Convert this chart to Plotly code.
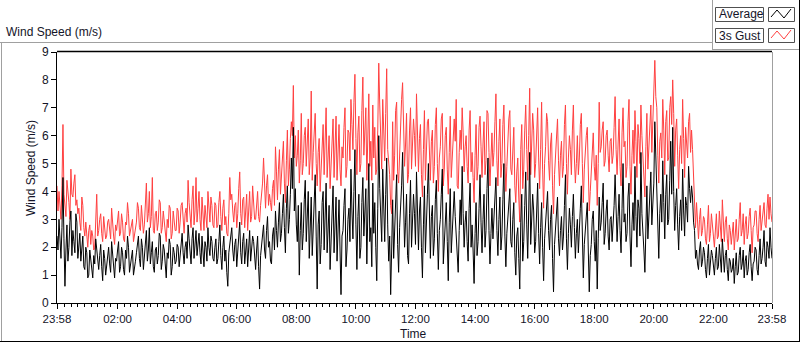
import datetime as dt
import plotly.graph_objects as go

# ---------------- data (one value every 2 minutes) ----------------
start_time = "2000-01-01 23:58"
step_minutes = 2

average = [
    2.4,1.9,3.0,2.2,1.6,2.7,4.5,2.3,0.6,1.9,2.8,1.5,2.0,2.9,3.3,1.7,2.6,2.2,1.8,3.2,2.9,1.6,2.1,2.5,1.5,1.9,2.4,1.3,1.2,2.0,1.8,0.9,1.0,1.9,1.6,1.1,0.9,1.7,1.4,2.3,
    1.9,1.4,1.2,1.7,2.1,1.3,0.8,1.9,1.6,1.0,1.3,1.8,2.0,1.4,1.1,2.2,1.7,1.2,0.9,1.6,1.5,1.9,2.2,1.1,1.3,2.0,1.8,1.2,1.0,1.9,1.6,2.4,2.0,1.1,1.4,1.7,1.9,1.0,1.2,1.5,
    1.8,2.2,2.4,1.6,1.3,2.3,2.0,1.2,1.6,2.1,2.6,1.5,1.9,2.7,1.4,1.8,2.2,1.3,1.1,1.9,2.0,1.4,1.7,2.5,2.4,1.2,1.5,2.1,1.9,1.4,0.9,1.8,1.6,2.3,2.1,1.0,1.3,2.0,1.8,1.4,
    1.5,2.1,2.0,1.3,1.7,2.2,2.5,1.8,1.4,2.0,2.2,1.6,2.8,2.3,1.9,1.4,2.3,2.7,1.6,2.0,2.6,1.7,2.1,2.5,1.8,1.4,2.4,1.9,1.3,2.2,2.0,1.5,2.7,2.0,1.7,2.4,2.2,1.6,1.5,2.0,
    2.3,1.4,1.6,2.2,2.8,1.7,1.2,2.0,2.4,1.5,1.9,1.1,0.6,1.8,2.1,2.5,2.7,1.9,1.5,2.1,2.3,1.3,1.8,2.4,2.9,1.8,1.4,2.2,2.5,1.4,2.0,2.3,1.3,1.9,2.6,1.5,1.9,2.4,2.2,1.6,
    1.2,1.9,2.4,1.3,0.5,1.7,2.0,2.5,2.8,1.9,1.6,2.6,3.1,2.0,2.2,1.5,1.4,2.4,2.7,1.9,3.3,2.6,2.0,2.9,3.6,2.2,2.5,3.2,3.9,2.7,1.8,3.4,4.2,2.5,3.0,3.9,5.2,4.1,6.3,3.3,
    4.1,2.8,2.2,3.5,1.0,2.6,3.6,1.9,2.5,3.7,4.4,2.2,3.0,4.0,1.6,2.9,3.8,1.7,2.7,3.9,4.6,2.4,0.5,2.8,3.3,1.4,2.1,3.6,4.0,1.9,3.1,4.3,1.8,2.9,3.5,1.2,2.4,3.8,4.2,1.8,
    2.9,3.8,1.5,2.6,3.7,1.9,0.3,2.4,2.6,3.5,4.1,1.3,1.9,3.0,3.4,2.2,4.8,3.3,2.3,4.0,5.5,2.8,1.2,3.1,3.9,1.6,2.0,3.6,4.5,2.4,3.2,4.1,1.4,3.0,5.0,2.2,2.7,1.3,4.3,2.5,
    3.6,2.0,0.8,3.4,6.0,4.1,3.1,2.2,4.8,3.6,2.2,3.9,5.2,2.8,1.5,2.4,0.3,1.9,3.7,1.6,2.5,3.8,4.6,2.1,1.1,2.7,3.3,4.2,5.4,3.0,2.0,2.9,3.9,1.7,1.4,3.2,4.4,2.0,2.8,3.9,
    3.2,2.1,4.7,3.0,1.9,3.3,3.8,2.0,0.9,2.8,4.2,1.8,2.6,3.9,5.0,2.7,1.6,3.1,3.5,1.7,2.3,3.7,4.4,2.5,1.2,2.6,3.0,3.9,4.8,1.4,2.1,3.3,3.6,2.2,0.8,2.9,4.1,1.8,2.7,3.6,
    4.0,3.1,2.4,1.5,1.1,2.6,3.7,2.8,4.9,3.2,2.0,2.9,3.3,2.2,1.5,3.4,4.3,2.0,2.8,1.9,0.7,2.5,3.6,1.7,2.2,3.4,4.6,2.9,1.8,3.0,3.9,2.0,2.6,4.1,5.2,2.6,1.4,2.5,3.4,2.3,
    2.9,3.6,4.5,2.6,1.7,3.0,3.8,1.9,2.4,3.7,5.0,2.4,1.3,2.5,3.2,3.8,4.1,2.2,2.0,3.0,3.6,1.8,1.0,2.4,2.7,1.6,0.5,2.9,3.9,1.5,2.2,3.5,4.7,2.8,1.6,3.3,5.4,2.1,3.0,3.9,
    3.3,1.8,2.2,3.4,4.3,2.5,1.4,2.7,3.6,2.0,0.8,2.3,2.9,3.6,4.0,2.6,1.9,3.0,3.5,1.6,0.4,2.1,2.6,3.2,3.8,2.3,1.7,2.6,3.1,1.9,2.4,3.5,4.6,2.3,1.2,2.5,3.4,2.8,2.0,3.1,
    3.9,2.7,1.6,2.5,3.0,1.8,2.4,3.4,4.2,2.3,0.9,2.1,2.7,3.4,3.6,1.9,0.4,1.7,2.1,3.0,3.3,2.2,1.5,2.6,0.5,2.3,3.8,2.6,2.9,3.6,4.3,2.1,2.5,3.3,3.7,2.4,1.9,3.0,3.1,2.2,
    2.8,3.5,4.6,3.0,2.2,3.1,3.9,2.6,1.8,3.4,5.0,2.9,3.2,2.2,2.5,3.8,4.3,2.4,1.3,2.8,3.6,2.6,4.9,3.1,2.0,3.7,3.4,2.4,5.4,3.2,2.7,1.9,1.1,3.0,4.2,2.3,3.0,3.9,4.7,2.8,
    3.6,4.3,6.5,5.0,4.4,2.7,1.6,3.2,3.9,2.9,5.1,3.6,2.3,3.9,4.6,2.8,3.0,4.4,5.8,3.9,6.3,4.0,2.6,3.5,4.1,2.8,1.9,3.1,3.7,2.6,4.8,3.3,2.4,3.8,3.5,2.9,4.9,4.1,3.6,4.2,
    3.8,2.9,2.6,1.6,1.9,1.4,1.2,1.9,2.2,1.3,1.5,2.0,1.8,1.2,0.9,1.6,2.1,1.0,1.4,1.9,1.7,1.3,1.0,1.6,2.0,1.2,1.3,2.1,1.6,1.1,2.3,1.5,1.1,1.7,1.9,1.2,0.8,1.6,1.5,1.1,
    1.2,1.6,0.7,1.3,1.8,1.0,1.1,1.7,2.0,1.2,1.4,1.9,0.9,1.5,1.7,1.0,1.2,1.8,2.1,1.3,0.8,1.4,1.5,2.0,1.9,1.2,1.0,1.7,2.3,1.4,1.6,2.0,2.6,1.5,1.3,2.2,2.0,1.6,2.7,2.0,
    1.6,
]

gust_3s = [
    4.2,3.3,4.0,3.4,3.0,4.2,6.4,3.9,3.5,3.1,4.4,4.1,3.6,3.0,4.8,3.9,3.8,4.3,4.6,3.5,3.7,3.2,3.4,2.9,2.6,3.8,3.5,2.7,2.4,2.9,2.2,2.0,2.6,2.8,2.1,2.6,2.4,1.9,2.0,3.1,
    3.9,2.4,2.6,3.0,3.2,2.5,2.2,3.1,2.7,2.3,2.4,2.9,3.0,2.6,2.3,3.4,2.8,2.4,2.1,2.8,2.6,3.0,3.3,2.4,2.5,3.2,2.9,2.3,2.2,2.9,2.8,3.6,3.2,2.4,2.6,2.9,3.0,2.2,2.5,2.7,
    2.9,3.6,3.4,2.7,2.6,3.5,3.1,2.5,2.8,3.4,4.3,2.9,3.2,4.0,2.7,3.1,4.5,2.6,2.5,3.2,3.3,2.6,2.9,3.7,3.6,2.5,2.7,3.3,3.0,2.6,2.2,3.0,2.7,3.5,3.4,2.3,2.5,3.3,3.0,2.6,
    2.6,3.4,3.3,2.5,2.9,3.5,3.6,3.0,2.5,3.2,3.4,2.9,4.4,3.6,3.1,2.7,3.7,4.2,2.8,3.3,4.5,2.9,3.4,4.0,3.0,2.6,3.8,3.3,2.6,3.5,3.2,2.7,4.0,3.2,2.9,3.8,3.5,2.8,2.7,3.6,
    3.5,2.7,2.8,3.6,4.0,3.1,2.6,3.4,3.7,2.8,3.1,2.5,2.4,3.2,4.5,3.7,3.9,3.3,2.9,3.5,3.6,2.7,3.2,4.1,4.7,3.2,2.8,3.7,3.8,2.7,3.3,3.9,2.6,3.2,4.0,2.9,3.1,4.2,3.4,3.0,
    3.0,3.6,4.0,3.1,2.9,3.5,3.8,4.3,5.2,3.8,3.4,4.2,4.6,3.5,3.9,3.6,3.3,4.1,4.4,3.5,5.6,4.7,3.7,4.8,5.5,3.9,4.5,5.4,5.8,4.3,3.6,5.1,6.2,4.2,4.8,5.9,6.5,6.0,7.8,5.2,
    6.0,4.9,5.3,6.2,4.3,5.1,6.8,4.6,5.0,6.0,6.3,4.9,5.6,6.6,4.6,5.2,7.6,4.4,5.4,6.5,6.8,5.0,4.2,5.4,5.9,4.0,4.8,6.1,6.4,4.6,5.7,7.0,4.5,5.3,6.0,4.1,5.1,6.3,6.6,4.5,
    5.6,6.7,4.4,5.5,6.4,4.8,4.2,5.6,5.2,6.3,7.0,4.5,4.9,6.2,6.1,5.1,7.3,6.4,5.5,7.2,8.2,5.9,4.6,6.1,6.7,4.7,5.0,6.9,8.1,5.3,6.0,7.0,4.4,5.8,7.5,4.9,5.8,4.4,7.1,5.2,
    6.3,4.6,4.8,6.2,8.6,7.1,6.0,4.8,7.3,6.4,5.1,6.8,8.4,5.5,4.9,4.6,3.5,3.2,6.5,4.4,5.3,6.9,7.2,4.7,4.3,5.6,6.1,7.3,7.9,5.8,4.9,5.7,6.8,4.3,4.6,6.2,7.0,4.8,5.5,6.6,
    6.0,4.9,7.5,6.1,4.7,5.9,6.4,4.6,3.8,5.5,6.9,4.4,5.3,6.5,6.6,5.7,4.4,5.8,6.2,4.3,4.9,6.4,7.0,5.0,4.0,5.2,5.6,6.6,6.8,4.2,4.8,6.0,6.3,4.8,3.9,5.4,6.7,4.5,5.2,6.3,
    6.6,5.8,7.3,4.2,4.1,5.4,6.2,5.5,7.0,6.1,4.7,5.6,6.0,4.9,4.3,6.2,6.9,4.7,5.4,4.5,3.6,5.3,6.4,4.4,4.9,6.3,6.7,5.6,4.5,5.7,6.5,4.6,5.1,6.9,6.8,5.4,4.2,5.2,6.1,4.9,
    5.4,6.5,7.5,5.1,4.2,5.8,6.6,4.5,5.0,6.4,7.1,5.2,4.0,4.9,5.8,6.6,6.9,4.8,4.6,5.9,6.3,4.2,3.6,4.7,5.2,3.8,2.9,5.5,6.4,4.1,4.8,6.2,7.1,5.5,4.4,6.0,7.7,4.6,5.6,6.8,
    6.2,4.5,5.0,6.3,7.0,5.2,4.1,5.5,7.2,4.8,3.4,5.0,5.6,6.8,6.5,5.1,4.4,5.7,6.1,4.2,3.2,4.6,5.3,6.0,6.6,5.1,4.2,5.3,5.8,4.5,4.9,6.4,7.1,5.0,3.9,5.2,6.0,5.5,4.6,6.2,
    7.1,5.2,4.3,5.0,6.0,4.6,5.2,6.4,6.8,5.0,3.6,4.8,5.5,6.0,6.3,4.5,3.3,4.0,4.9,5.7,6.1,4.9,4.4,5.3,3.5,5.0,7.2,5.4,5.6,6.2,6.5,4.9,5.1,6.0,6.2,5.3,4.7,5.8,5.9,5.0,
    5.3,6.3,7.4,5.5,4.6,5.7,6.6,4.9,4.2,6.1,7.0,5.6,5.8,4.5,4.9,6.5,7.3,4.9,3.9,5.3,6.2,5.0,6.9,5.8,4.5,6.4,5.9,5.0,7.1,6.0,5.2,4.2,3.8,5.6,6.8,4.8,5.5,6.6,7.1,5.4,
    6.4,7.6,8.7,7.4,7.0,5.3,4.3,5.8,6.1,5.2,7.3,6.2,4.6,6.5,6.9,5.1,5.2,7.0,7.4,6.4,8.0,6.8,4.9,6.2,6.6,5.3,4.1,5.5,6.0,5.0,7.3,5.9,4.5,6.3,5.8,5.2,6.5,6.8,5.4,6.2,
    5.5,4.4,3.3,2.7,3.6,2.6,2.3,3.0,3.4,2.4,2.6,3.1,3.0,2.3,2.1,2.8,3.5,2.2,2.5,3.2,2.9,2.4,2.0,2.9,3.2,2.3,2.4,3.3,2.7,2.2,3.7,2.8,2.2,2.9,3.1,2.3,1.9,2.8,2.6,2.1,
    2.4,2.9,1.9,2.5,3.0,2.2,2.3,3.0,3.6,2.4,2.6,3.2,2.1,2.8,3.1,2.3,2.5,3.1,3.4,2.6,1.8,2.7,2.8,3.3,3.3,2.5,2.2,3.0,3.5,2.6,2.9,3.3,3.6,2.8,2.7,3.4,3.9,3.0,3.8,3.2,
    2.9,
]

x_tick_hours = ["02:00", "04:00", "06:00", "08:00", "10:00", "12:00",
                "14:00", "16:00", "18:00", "20:00", "22:00"]
y_ticks = [0, 1, 2, 3, 4, 5, 6, 7, 8, 9]

# ---------------- time axis ----------------
t0 = dt.datetime.strptime(start_time, "%Y-%m-%d %H:%M")
times = [t0 + dt.timedelta(minutes=step_minutes * i) for i in range(len(average))]
t_end = t0 + dt.timedelta(days=1)

day = dt.datetime(2000, 1, 2)
tickvals = [t0] + [day + dt.timedelta(hours=int(h[:2])) for h in x_tick_hours] + [t_end]
ticktext = ["23:58"] + x_tick_hours + ["23:58"]

minor_vals = []
for k in range(-2, 120):
    m = day + dt.timedelta(minutes=k * 120 / 9)
    if m <= t0 or m >= t_end:
        continue
    if any(abs((m - tv).total_seconds()) < 180 for tv in tickvals):
        continue
    minor_vals.append(m)

# ---------------- geometry helpers (pixel -> paper) ----------------
W, H = 800, 342
L, R, T, B = 57, 772, 52, 303


def X(px):
    return (px - L) / (R - L)


def Y(py):
    return (B - py) / (B - T)


FONT = "Liberation Sans"
TXT = "#141428"

fig = go.Figure()
fig.add_trace(go.Scatter(x=times, y=gust_3s, mode="lines", name="3s Gust",
                         line=dict(color="#ff4040", width=1)))
fig.add_trace(go.Scatter(x=times, y=average, mode="lines", name="Average",
                         line=dict(color="#000000", width=1)))

fig.update_layout(
    width=W, height=H,
    margin=dict(l=L, r=W - R, t=T, b=H - B),
    paper_bgcolor="white", plot_bgcolor="white",
    showlegend=False,
    font=dict(family=FONT, size=12, color=TXT),
)

fig.update_xaxes(
    range=[t0, t_end], tickmode="array", tickvals=tickvals, ticktext=ticktext,
    ticks="outside", ticklen=5, tickwidth=1, tickcolor="#000",
    showgrid=False, zeroline=False, showline=True, linecolor="#000", linewidth=1,
    tickfont=dict(size=11.5, color=TXT, family=FONT),
    minor=dict(tickmode="array", tickvals=minor_vals, ticks="outside",
               ticklen=3, tickwidth=1, tickcolor="#000", showgrid=False),
)
fig.update_yaxes(
    range=[0, 9], tickmode="array", tickvals=y_ticks,
    ticks="outside", ticklen=5, tickwidth=1, tickcolor="#000",
    showgrid=False, zeroline=False, showline=True, linecolor="#000", linewidth=1,
    tickfont=dict(size=12, color=TXT, family=FONT),
)

shapes = []


def line(x0, y0, x1, y1, color, width=1):
    shapes.append(dict(type="line", xref="paper", yref="paper",
                       x0=X(x0), y0=Y(y0), x1=X(x1), y1=Y(y1),
                       line=dict(color=color, width=width), layer="above"))


grey = "#a0a0a0"
# outer frame
line(0, 42.5, 712, 42.5, grey)
line(1.5, 42.5, 1.5, 341, grey)
line(712.5, 0, 712.5, 49.5, grey)
line(712, 49.5, 799, 49.5, grey)
line(799.5, 0, 799.5, 342, "#000000")
line(0, 341.5, 800, 341.5, "#000000")
# plot area border (top dark, right light)
line(L, T - 0.5, R, T - 0.5, "#000000", 1.5)
line(R + 0.5, T, R + 0.5, B, grey)

# legend boxes
for (y0, y1, col) in [(7, 21, "#000000"), (28, 42, "#ff4040")]:
    shapes.append(dict(type="rect", xref="paper", yref="paper",
                       x0=X(715.5), x1=X(763.5), y0=Y(y1 + 0.5), y1=Y(y0 + 0.5),
                       line=dict(color="#505050", width=1), fillcolor="white", layer="above"))
    shapes.append(dict(type="rect", xref="paper", yref="paper",
                       x0=X(768.5), x1=X(794.5), y0=Y(y1 + 0.5), y1=Y(y0 + 0.5),
                       line=dict(color="#505050", width=1), fillcolor="white", layer="above"))
    pts = [(771, y0 + 10), (777, y0 + 3), (784, y0 + 11), (791, y0 + 2)]
    path = "M " + " L ".join(f"{X(px)},{Y(py)}" for px, py in pts)
    shapes.append(dict(type="path", xref="paper", yref="paper", path=path,
                       line=dict(color=col, width=1), layer="above"))

annotations = [
    dict(text="Wind Speed (m/s)", xref="paper", yref="paper", x=X(4), y=Y(32),
         xanchor="left", yanchor="middle", showarrow=False,
         font=dict(size=12, color=TXT, family=FONT)),
    dict(text="Wind Speed (m/s)", xref="paper", yref="paper", x=X(31), y=Y(168),
         xanchor="center", yanchor="middle", showarrow=False, textangle=-90,
         font=dict(size=12, color=TXT, family=FONT)),
    dict(text="Time", xref="paper", yref="paper", x=X(413), y=Y(334),
         xanchor="center", yanchor="middle", showarrow=False,
         font=dict(size=12, color=TXT, family=FONT)),
    dict(text="Average", xref="paper", yref="paper", x=X(717), y=Y(14.5),
         xanchor="left", yanchor="middle", showarrow=False,
         font=dict(size=12, color=TXT, family=FONT)),
    dict(text="3s Gust", xref="paper", yref="paper", x=X(717), y=Y(35.5),
         xanchor="left", yanchor="middle", showarrow=False,
         font=dict(size=12, color=TXT, family=FONT)),
]

fig.update_layout(shapes=shapes, annotations=annotations)
fig.write_html(
    "out.html",
    config={"displayModeBar": False},
    post_script="document.body.style.margin='0px';document.body.style.padding='0px';",
)
